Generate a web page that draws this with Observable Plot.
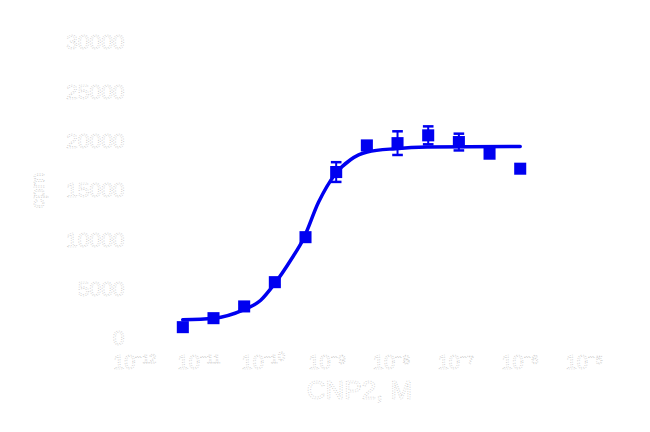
<!DOCTYPE html>
<html><head><meta charset="utf-8">
<script src="https://cdn.jsdelivr.net/npm/d3@7"></script>
<script src="https://cdn.jsdelivr.net/npm/@observablehq/plot@0.6"></script>
<style>
body{margin:0;background:#fff;}
#chart svg text{fill:#fff !important;stroke:#c4c4c4;stroke-width:0.7;stroke-dasharray:0.9 1.5;font-family:"Liberation Sans",Arial,sans-serif;}
</style></head><body><div id="chart"></div>
<script>
// Concentrations (M), 3-fold serial dilution
const concentrations = [5.645e-12, 1.6935e-11, 5.0805e-11, 1.5242e-10, 4.5725e-10, 1.3717e-9, 4.1152e-9, 1.2346e-8, 3.7037e-8, 1.1111e-7, 3.3333e-7, 1e-6];
const means = [1150, 2060, 3250, 5710, 10270, 16870, 19570, 19800, 20590, 19910, 18730, 17210];
const errors = [150, 200, 250, 300, 400, 1000, 400, 1200, 910, 850, 250, 0];
// Fitted curve
const curveConc = [5.62e-12, 1.69e-11, 4.95e-11, 9.1e-11, 1.51e-10, 2.67e-10, 4.25e-10, 7.28e-10, 1.34e-9, 2.29e-9, 4.16e-9, 1.15e-8, 3.56e-8, 1e-6];
const curveVal = [1900, 2060, 2910, 3850, 5550, 7910, 10110, 13800, 16700, 18120, 18900, 19240, 19400, 19470];
const xTicks = [1e-12, 1e-11, 1e-10, 1e-9, 1e-8, 1e-7, 1e-6, 1e-5];
const yTicks = [0, 5000, 10000, 15000, 20000, 25000, 30000];
const xLabel = "CNP2, M";
const yLabel = "cpm";

const color = "#0000f0";
const points = concentrations.map((c, i) => ({c, m: means[i], lo: means[i] - errors[i], hi: means[i] + errors[i]}));
const curve = curveConc.map((c, i) => ({c, v: curveVal[i]}));
const sup = {"-": "\u207B", "0": "\u2070", "1": "\u00B9", "2": "\u00B2", "3": "\u00B3", "4": "\u2074", "5": "\u2075", "6": "\u2076", "7": "\u2077", "8": "\u2078", "9": "\u2079"};
const fmt = d => "10" + String(Math.round(Math.log10(d))).split("").map(ch => sup[ch]).join("");
const capSymbol = {draw(ctx, size) { const w = Math.sqrt(size) / 2; ctx.moveTo(-w, 0); ctx.lineTo(w, 0); }};

const chart = Plot.plot({
  width: 650,
  height: 432,
  marginLeft: 134,
  marginRight: 66,
  marginTop: 42,
  marginBottom: 94,
  style: {background: "#fff", overflow: "visible"},
  x: {type: "log", domain: [1e-12, 1e-5]},
  y: {domain: [0, 30000]},
  marks: [
    Plot.axisX({ticks: xTicks, tickFormat: fmt, tickSize: 0, tickPadding: 16, fontSize: 20, label: null}),
    Plot.axisY({ticks: yTicks, tickFormat: d => String(d), tickSize: 0, tickPadding: 10, fontSize: 21, label: null}),
    Plot.text([yLabel], {frameAnchor: "left", textAnchor: "middle", rotate: -90, dx: -97, fontSize: 19}),
    Plot.text([xLabel], {frameAnchor: "bottom", dy: 60, fontSize: 26}),
    Plot.line(curve, {x: "c", y: "v", stroke: color, strokeWidth: 3.5, curve: "monotone-x"}),
    Plot.ruleX(points, {x: "c", y1: "lo", y2: "hi", stroke: color, strokeWidth: 2}),
    Plot.dot(points.filter(p => p.hi > p.lo), {x: "c", y: "hi", symbol: capSymbol, r: 6, stroke: color, strokeWidth: 2.5, fill: "none"}),
    Plot.dot(points.filter(p => p.hi > p.lo), {x: "c", y: "lo", symbol: capSymbol, r: 6, stroke: color, strokeWidth: 2.5, fill: "none"}),
    Plot.dot(points, {x: "c", y: "m", symbol: "square", r: 6.8, fill: color, stroke: "none"})
  ]
});
document.getElementById("chart").append(chart);
</script></body></html>
